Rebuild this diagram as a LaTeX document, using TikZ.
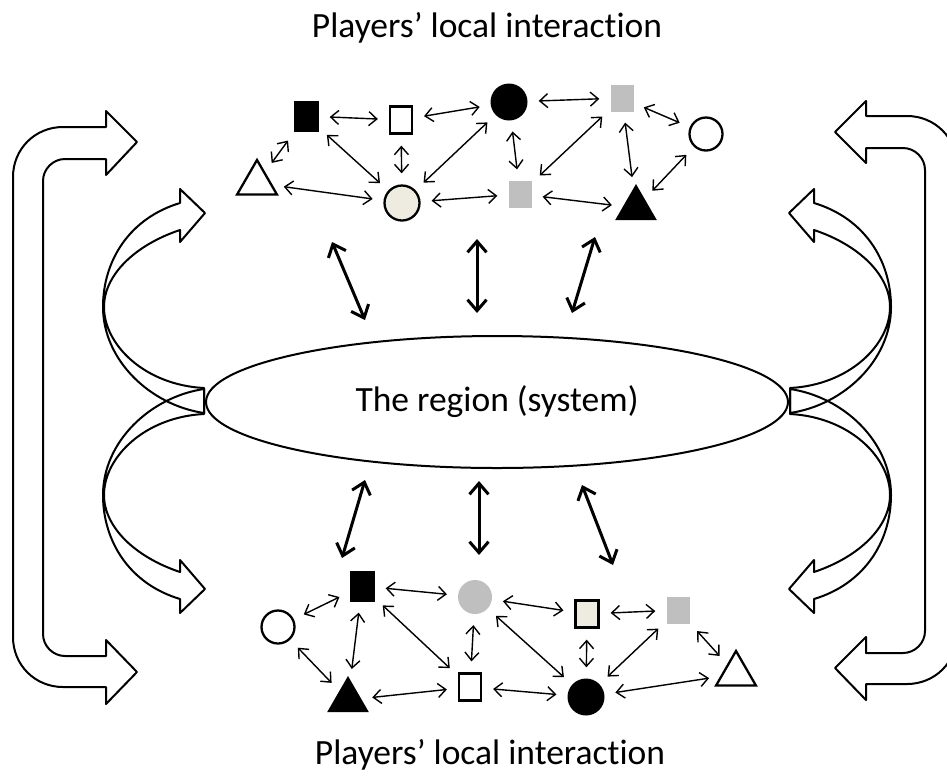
\documentclass[tikz,border=0pt]{standalone}
\usepackage{fontspec}
\setmainfont{Carlito}[Ligatures=NoCommon]
\usetikzlibrary{shapes.geometric,arrows.meta}

\definecolor{grayfill}{HTML}{BFBFBF}
\definecolor{tanfill}{HTML}{EEECE1}

\begin{document}
\begin{tikzpicture}[x=1pt,y=-1pt,
  every node/.style={inner sep=0pt},
  lbl/.style={font=\fontsize{35.5pt}{40pt}\selectfont},
  shp/.style={line width=2.3pt},
  bsq/.style={rectangle,fill=black,minimum width=25pt,minimum height=31pt},
  wsq/.style={shp,rectangle,draw,fill=white,minimum width=22pt,minimum height=27pt},
  lsq/.style={shp,rectangle,draw,fill=tanfill,minimum width=23pt,minimum height=27pt},
  gsq/.style={rectangle,fill=grayfill,minimum width=23pt,minimum height=27pt},
  bci/.style={circle,fill=black,minimum size=37pt},
  wci/.style={shp,circle,draw,fill=white,minimum size=33pt},
  lci/.style={shp,circle,draw,fill=tanfill,minimum size=35pt},
  gci/.style={circle,fill=grayfill,minimum size=34pt},
  btr/.style={regular polygon,regular polygon sides=3,fill=black,minimum size=48pt},
  wtr/.style={shp,regular polygon,regular polygon sides=3,draw,fill=white,minimum size=46pt},
  link/.style={<->,>={Straight Barb[length=8pt,width=14pt]},line width=1.4pt,shorten <=11pt,shorten >=11pt},
  bigarrow/.style={<->,>={Straight Barb[length=11pt,width=19pt]},line width=3pt},
  blockarrow/.style={line width=2pt,line join=round}]

\useasboundingbox (0,0) rectangle (947,780);
\clip (0,0) rectangle (947,780);

\node[lbl,anchor=base] (ttop) at (487,37) {Players’ local interaction};
\node[lbl,anchor=base] (tbot) at (490,764) {Players’ local interaction};

\draw[blockarrow] (106,127) -- (106,111) -- (137,142) -- (106,175) -- (106,159) -- (65,159)
  .. controls (53,159) and (43,169) .. (43,181) -- (43,634)
  .. controls (43,646) and (53,656) .. (65,656) -- (106,656) -- (106,640) -- (137,672)
  -- (106,704) -- (106,687) -- (63,687) .. controls (35,687) and (13,665) .. (13,637)
  -- (13,177) .. controls (13,149) and (35,127) .. (63,127) -- cycle;

\draw[blockarrow] (866,116) -- (866,101) -- (835,132) -- (866,163) -- (866,148) -- (903,148)
  .. controls (915,148) and (925,158) .. (925,170) -- (925,631)
  .. controls (925,643) and (915,653) .. (903,653) -- (866,653) -- (866,637) -- (835,668)
  -- (866,700) -- (866,684) -- (907,684) .. controls (935,684) and (957,662) .. (957,634)
  -- (957,166) .. controls (957,138) and (935,116) .. (907,116) -- cycle;

\foreach \sx/\sy in {1/1,1/-1,-1/1,-1/-1}{
  \begin{scope}[shift={(497,401)},xscale=\sx,yscale=\sy]
    \draw[blockarrow] (-293,12) .. controls (-347,4) and (-394,-41) .. (-394,-94)
      .. controls (-394,-141) and (-367,-183) .. (-317,-198)
      -- (-317,-212) -- (-292,-188) -- (-317,-159) -- (-317,-171)
      .. controls (-362,-156) and (-393,-126) .. (-393,-94)
      .. controls (-393,-56) and (-352,-16) .. (-293,-13) -- cycle;
  \end{scope}
}

\node[lbl,ellipse,draw,line width=2pt,fill=white,minimum width=582pt,minimum height=132pt] (reg) at (497,402) {The region (system)};

\node[bsq] (t1) at (306,116) {};
\node[wsq] (t2) at (401,120) {};
\node[bci] (t3) at (509,102) {};
\node[gsq] (t4) at (622,98) {};
\node[wci] (t5) at (706,134) {};
\node[wtr] (t6) at (257,183) {};
\node[lci] (t7) at (402,203) {};
\node[gsq] (t8) at (520,194) {};
\node[btr] (t9) at (636,208) {};

\node[bsq] (b1) at (362,586) {};
\node[gci] (b2) at (475,597) {};
\node[lsq] (b3) at (587,614) {};
\node[gsq] (b4) at (678,610) {};
\node[wci] (b5) at (278,627) {};
\node[btr] (b6) at (348,700) {};
\node[wsq] (b7) at (470,687) {};
\node[bci] (b8) at (586,697) {};
\node[wtr] (b9) at (736,674) {};

\draw[link] (t1) -- (t2);
\draw[link] (t2) -- (t3);
\draw[link] (t3) -- (t4);
\draw[link] (t4) -- (t5);
\draw[link] (t1) -- (t6);
\draw[link] (t1) -- (t7);
\draw[link] (t2) -- (t7);
\draw[link] (t7) -- (t3);
\draw[link] (t3) -- (t8);
\draw[link] (t6) -- (t7);
\draw[link] (t7) -- (t8);
\draw[link] (t8) -- (t9);
\draw[link] (t4) -- (t8);
\draw[link] (t4) -- (t9);
\draw[link] (t5) -- (t9);

\draw[link] (b5) -- (b1);
\draw[link] (b1) -- (b2);
\draw[link] (b2) -- (b3);
\draw[link] (b3) -- (b4);
\draw[link] (b5) -- (b6);
\draw[link] (b1) -- (b6);
\draw[link] (b1) -- (b7);
\draw[link] (b2) -- (b7);
\draw[link] (b2) -- (b8);
\draw[link] (b3) -- (b8);
\draw[link] (b4) -- (b8);
\draw[link] (b4) -- (b9);
\draw[link] (b6) -- (b7);
\draw[link] (b7) -- (b8);
\draw[link] (b8) -- (b9);

\coordinate (ua1) at (332,242);
\coordinate (ua2) at (365,320);
\coordinate (ub1) at (477,239);
\coordinate (ub2) at (477,313);
\coordinate (uc1) at (595,237);
\coordinate (uc2) at (572,313);
\coordinate (la1) at (365,480);
\coordinate (la2) at (342,558);
\coordinate (lb1) at (479,481);
\coordinate (lb2) at (479,555);
\coordinate (lc1) at (582,485);
\coordinate (lc2) at (613,565);

\draw[bigarrow] (ua1) -- (ua2);
\draw[bigarrow] (ub1) -- (ub2);
\draw[bigarrow] (uc1) -- (uc2);
\draw[bigarrow] (la1) -- (la2);
\draw[bigarrow] (lb1) -- (lb2);
\draw[bigarrow] (lc1) -- (lc2);

\end{tikzpicture}
\end{document}
